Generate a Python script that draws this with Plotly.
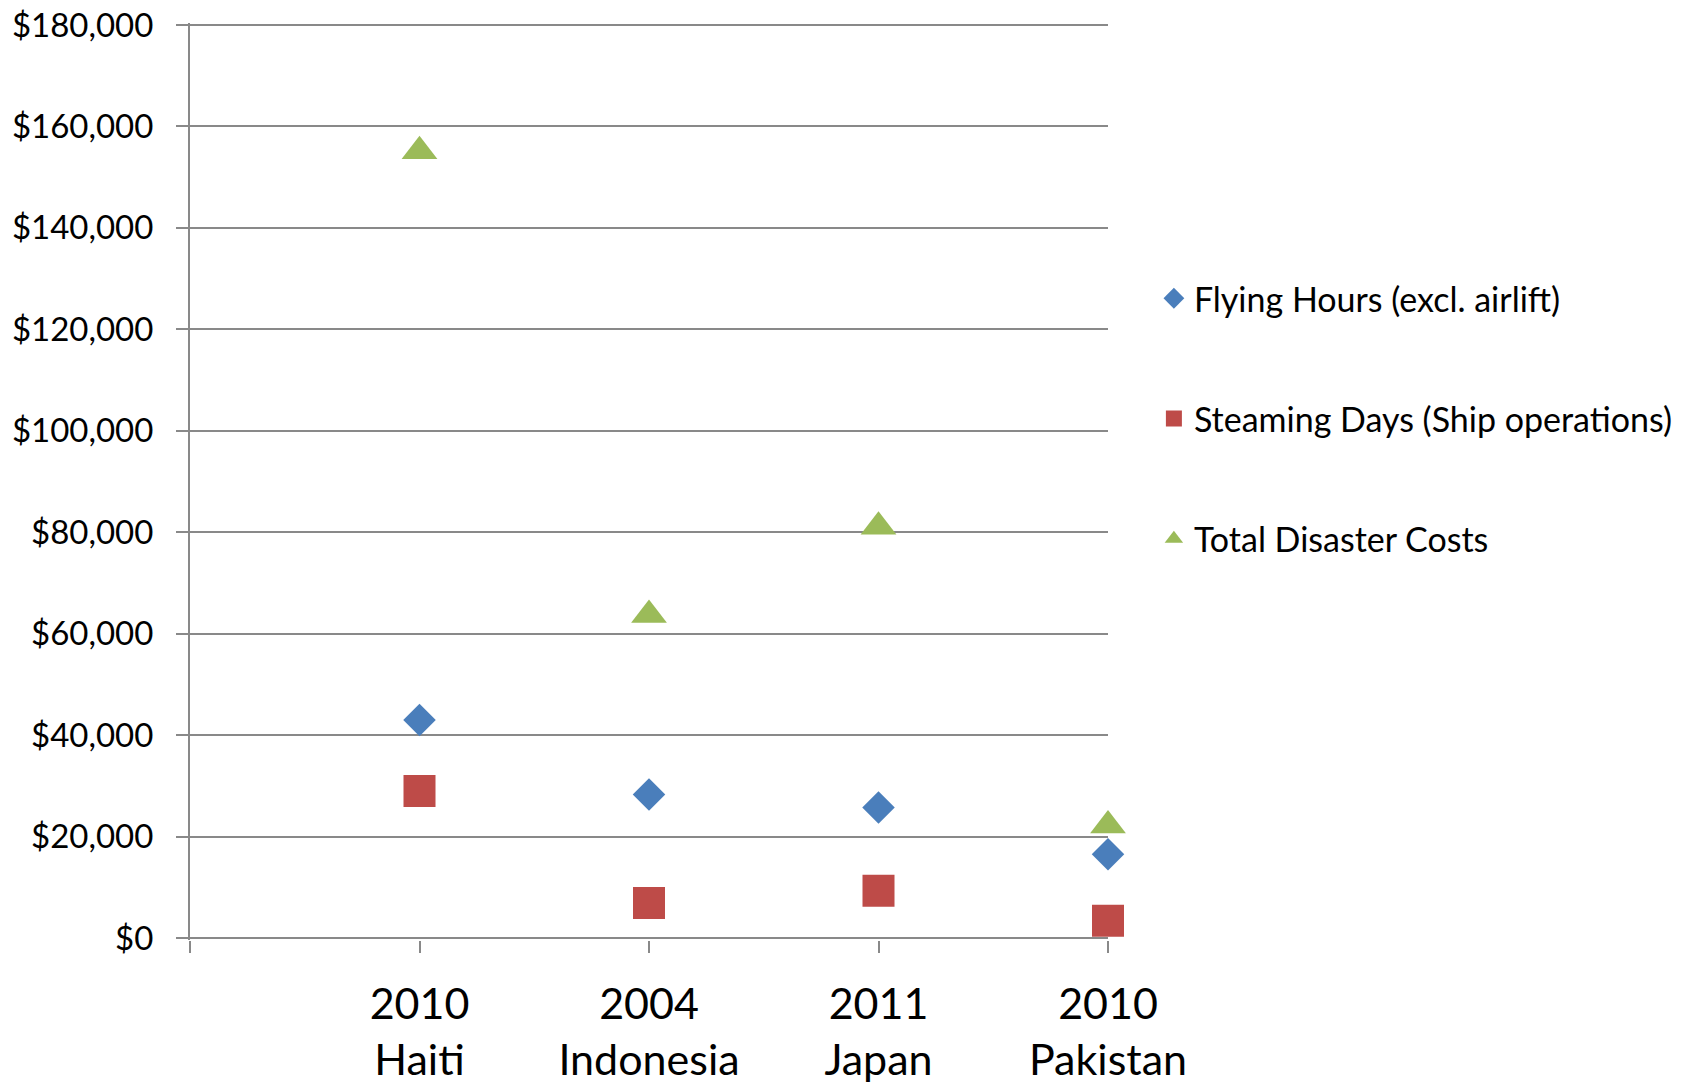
import plotly.graph_objects as go

# Disaster response costs by operation
events = ["2010<br>Haiti", "2004<br>Indonesia", "2011<br>Japan", "2010<br>Pakistan"]
positions = [1, 2, 3, 4]

flying_hours = [43000, 28300, 25700, 16500]
steaming_days = [29000, 6900, 9300, 3400]
total_costs = [155100, 63700, 81100, 22200]

y_ticks = [0, 20000, 40000, 60000, 80000, 100000, 120000, 140000, 160000, 180000]
y_tick_text = ["$0", "$20,000", "$40,000", "$60,000", "$80,000", "$100,000",
               "$120,000", "$140,000", "$160,000", "$180,000"]

FONT = "Lato"
GRID = "#898989"

fig = go.Figure()

series = [
    ("Flying Hours (excl. airlift)", flying_hours, "diamond", "#4A7EBB", 25),
    ("Steaming Days (Ship operations)", steaming_days, "square", "#BE4B48", 32),
    ("Total Disaster Costs", total_costs, "triangle-up", "#9BBB59", 31),
]

for i, (name, vals, symbol, color, size) in enumerate(series):
    fig.add_trace(go.Scatter(
        x=positions, y=vals, name=name, mode="markers",
        legendgroup=f"g{i}",
        marker=dict(symbol=symbol, color=color, size=size, line=dict(width=0)),
        cliponaxis=False,
    ))

fig.update_layout(
    width=1700, height=1082,
    margin=dict(l=190, r=592, t=23, b=142),
    paper_bgcolor="white", plot_bgcolor="white",
    font=dict(family=FONT, color="#000000"),
    showlegend=True,
    legend=dict(
        x=1.05, xanchor="left", y=0.731, yanchor="top",
        font=dict(size=34, family=FONT, color="#000000"),
        tracegroupgap=73, itemsizing="trace",
        bgcolor="rgba(0,0,0,0)", borderwidth=0,
    ),
    xaxis=dict(
        range=[0, 4], tickmode="array",
        tickvals=[0] + positions, ticktext=[""] + events,
        ticks="outside", ticklen=12, tickwidth=2, tickcolor=GRID,
        showgrid=False, zeroline=False, showline=False,
        tickfont=dict(size=43, family=FONT, color="#000000"),
        ticklabelstandoff=14, automargin=False,
    ),
    yaxis=dict(
        range=[-400, 180400], tickmode="array",
        tickvals=y_ticks, ticktext=y_tick_text,
        ticks="outside", ticklen=12, tickwidth=2, tickcolor=GRID,
        showgrid=True, gridcolor=GRID, gridwidth=2,
        zeroline=True, zerolinecolor=GRID, zerolinewidth=2,
        showline=True, linecolor=GRID, linewidth=2,
        tickfont=dict(size=33, family=FONT, color="#000000"),
        ticklabelstandoff=16, automargin=False,
    ),
)

fig.write_html("out.html")
